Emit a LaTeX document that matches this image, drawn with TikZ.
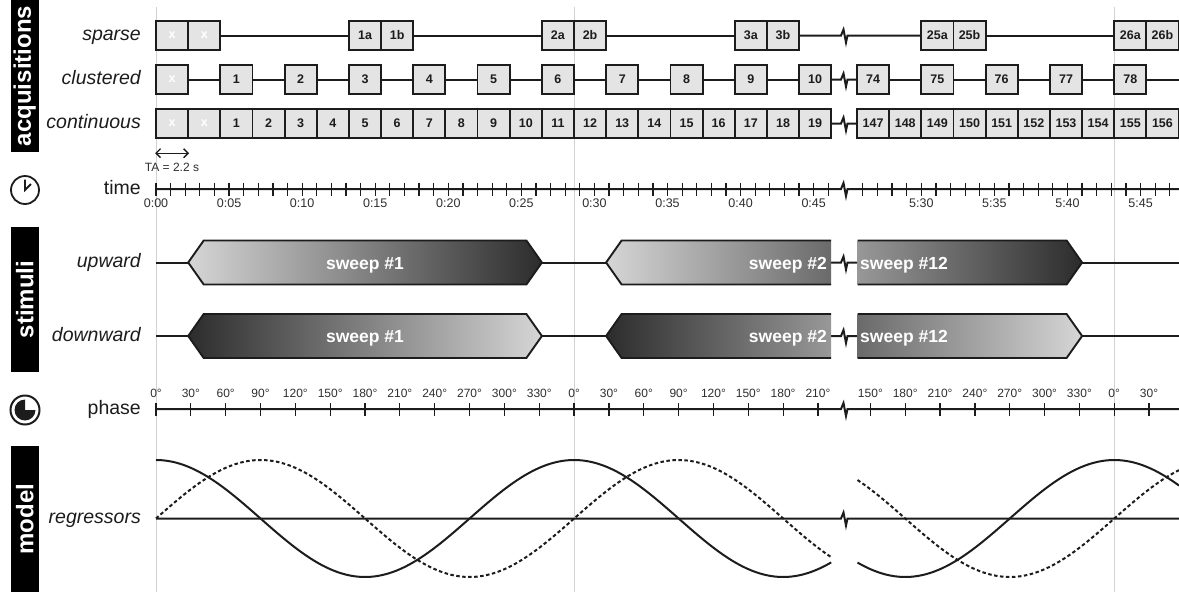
\documentclass[tikz,border=0pt]{standalone}
\usepackage{fontspec}
\setmainfont{Liberation Sans}
\usetikzlibrary{arrows.meta}

\definecolor{ink}{HTML}{1C1C1C}
\definecolor{boxfill}{HTML}{E4E4E4}
\definecolor{guide}{HTML}{D2D2D2}
\definecolor{swlight}{HTML}{D6D6D6}
\definecolor{swdark}{HTML}{2C2C2C}
\definecolor{ticktext}{HTML}{2E2E2E}

\begin{document}
\begin{tikzpicture}[
    x=1pt, y=-1pt,
    wire/.style = {draw=ink, line width=2pt},
    tickmark/.style = {draw=ink, line width=1.2pt},
    guideline/.style = {draw=guide, line width=0.8pt},
    acq/.style = {
      shape=rectangle, draw=ink, fill=boxfill, line width=1.9pt,
      minimum width=32.15pt, minimum height=29.5pt, inner sep=0pt,
      font=\bfseries\fontsize{12.5}{13}\selectfont, text=ink
    },
    dummybox/.style = {acq, text=white},
    sectionbar/.style = {
      shape=rectangle, fill=black, text=white, rotate=90, inner sep=0pt,
      minimum height=28.5pt, font=\bfseries\fontsize{24}{24}\selectfont
    },
    rowlabel/.style = {anchor=east, inner sep=0pt, text height=14pt, text depth=4pt,
      font=\itshape\fontsize{19.5}{22}\selectfont, text=ink},
    axislabel/.style = {rowlabel, font=\fontsize{19.5}{22}\selectfont},
    timelabel/.style = {anchor=north, inner sep=0pt, text=ticktext,
      font=\fontsize{12.5}{13}\selectfont},
    phaselabel/.style = {anchor=south, inner sep=0pt, text=ticktext,
      font=\fontsize{12}{13}\selectfont},
    sweeptext/.style = {text=white, inner sep=0pt, text height=13pt, text depth=0pt,
      font=\bfseries\fontsize{17.5}{18}\selectfont},
    upsweep/.style = {left color=swlight, right color=swdark, draw=ink, line width=1.9pt},
    downsweep/.style = {left color=swdark, right color=swlight, draw=ink, line width=1.9pt},
    sweep/.style n args = {3}{insert path={(#1,#3) -- ({#1+15.5},{#3-22})
      -- ({#2-15.5},{#3-22}) -- (#2,#3) -- ({#2-15.5},{#3+22}) -- ({#1+15.5},{#3+22}) -- cycle}},
    axisbreak/.style = {insert path={-- (841,#1) -- ++(2.5,-6) -- ++(2.5,13) -- ++(1.5,-7)}}
  ]
    \useasboundingbox (0,0) rectangle (1179,592);

    % sweep onsets (0 deg)
    \foreach \gx in {156,574.1,1114.2}
      \draw[guideline] (\gx,7) -- (\gx,592);

    % section bars and icons
    \node[sectionbar, minimum width=152pt] (acqbar) at (24.75,76) {acquisitions};
    \node[sectionbar, minimum width=145pt] (stimbar) at (24.75,299.5) {stimuli};
    \node[sectionbar, minimum width=146pt] (modelbar) at (24.75,519) {model};
    \draw[wire, line width=1.8pt] (25,190) circle[radius=14];
    \draw[wire, line width=1.8pt] (25,179.5) -- (25,190) -- (31,184);
    \draw[wire, line width=2pt] (25,410) circle[radius=14.5];
    \fill[ink] (25,410) -- ++(10.5,0) arc[start angle=0, end angle=270, radius=10.5] -- cycle;

    % row labels
    \node[rowlabel] (lsparse) at (141,35.5) {sparse};
    \node[rowlabel] (lclust) at (141,79.5) {clustered};
    \node[rowlabel] (lcont) at (141,123.5) {continuous};
    \node[axislabel] (ltime) at (141,189) {time};
    \node[rowlabel] (lup) at (141,262.5) {upward};
    \node[rowlabel] (ldown) at (141,336) {downward};
    \node[axislabel] (lphase) at (141,409) {phase};
    \node[rowlabel] (lreg) at (141,518.5) {regressors};

    % sparse acquisitions
    \foreach \k in {0,1}
      \node[dummybox] (s\k) at ({156+32.154*(\k+0.5)},35.5) {x};
    \foreach \k/\t in {6/1a,7/1b,12/2a,13/2b,18/3a,19/3b}
      \node[acq] (s\k) at ({156+32.154*(\k+0.5)},35.5) {\t};
    \foreach \k/\t in {150/25a,151/25b,156/26a,157/26b}
      \node[acq] (s\k) at ({-3901.8+32.154*(\k+0.5)},35.5) {\t};
    \draw[wire] (s1) -- (s6) (s7) -- (s12) (s13) -- (s18) (s151) -- (s156);
    \draw[wire] (s19) [axisbreak=35.5] -- (s150);

    % clustered acquisitions
    \node[dummybox] (k0) at ({156+32.154*0.5},79.5) {x};
    \foreach \n in {1,...,10} {
      \pgfmathtruncatemacro\k{2*\n}
      \node[acq] (k\k) at ({156+32.154*(\k+0.5)},79.5) {\n};
    }
    \foreach \n in {74,...,78} {
      \pgfmathtruncatemacro\k{2*\n}
      \node[acq] (k\k) at ({-3901.8+32.154*(\k+0.5)},79.5) {\n};
    }
    \coordinate (kend) at (1179,79.5);
    \foreach \n in {1,...,10} {
      \pgfmathtruncatemacro\p{2*\n-2}
      \pgfmathtruncatemacro\q{2*\n}
      \draw[wire] (k\p) -- (k\q);
    }
    \draw[wire] (k20) [axisbreak=79.5] -- (k148);
    \draw[wire] (k148) -- (k150) (k150) -- (k152) (k152) -- (k154) (k154) -- (k156) (k156) -- (kend);

    % continuous acquisitions
    \foreach \k in {0,1}
      \node[dummybox] (c\k) at ({156+32.154*(\k+0.5)},123.5) {x};
    \foreach \k in {2,...,20} {
      \pgfmathtruncatemacro\n{\k-1}
      \node[acq] (c\k) at ({156+32.154*(\k+0.5)},123.5) {\n};
    }
    \foreach \k in {148,...,157} {
      \pgfmathtruncatemacro\n{\k-1}
      \node[acq] (c\k) at ({-3901.8+32.154*(\k+0.5)},123.5) {\n};
    }
    \draw[wire] (c20) [axisbreak=123.5] -- (c148);

    % repetition time
    \draw[wire, line width=1.4pt, {Straight Barb[length=4.5pt,width=9pt]}-{Straight Barb[length=4.5pt,width=9pt]}]
      ([yshift=-14pt]c0.south west) -- ([yshift=-14pt]c0.south east);
    \node[font=\fontsize{12}{13}\selectfont, text=ticktext] (ta) at (172,167) {TA = 2.2 s};

    % time axis
    \draw[wire] (156,189) [axisbreak=189] -- (1179,189);
    \foreach \t in {0,...,46}
      \draw[tickmark] ({156+14.615*\t},182.5) -- ++(0,13);
    \foreach \t in {326,...,347}
      \draw[tickmark] ({857+14.615*(\t-325.6)},182.5) -- ++(0,13);
    \foreach \t/\l in {0/0:00,5/0:05,10/0:10,15/0:15,20/0:20,25/0:25,30/0:30,35/0:35,40/0:40,45/0:45}
      \node[timelabel] at ({156+14.615*\t},199) {\l};
    \foreach \t/\l in {330/5:30,335/5:35,340/5:40,345/5:45}
      \node[timelabel] at ({857+14.615*(\t-325.6)},199) {\l};

    % stimuli
    \foreach \r/\y in {u/262.5,d/336} {
      \coordinate (\r0) at (156,\y);
      \coordinate (\r1a) at (188.2,\y);
      \coordinate (\r1b) at (541.9,\y);
      \coordinate (\r2a) at (606.1,\y);
      \coordinate (\r2b) at (831.2,\y);
      \coordinate (\r12a) at (857.5,\y);
      \coordinate (\r12b) at (1082.1,\y);
      \coordinate (\r9) at (1179,\y);
      \draw[wire] (\r0) -- (\r1a) (\r1b) -- (\r2a) (\r12b) -- (\r9);
      \draw[wire] (\r2b) [axisbreak=\y] -- (\r12a);
    }
    \shade[upsweep] [sweep={188.2}{541.9}{262.5}];
    \shade[downsweep] [sweep={188.2}{541.9}{336}];
    \begin{scope}
      \clip (600,230) rectangle (831.2,370);
      \shade[upsweep] [sweep={606.1}{959.8}{262.5}];
      \shade[downsweep] [sweep={606.1}{959.8}{336}];
    \end{scope}
    \begin{scope}
      \clip (857.5,230) rectangle (1179,370);
      \shade[upsweep] [sweep={728.4}{1082.1}{262.5}];
      \shade[downsweep] [sweep={728.4}{1082.1}{336}];
    \end{scope}
    \node[sweeptext] (up1) at (365,262.5) {sweep \#1};
    \node[sweeptext, anchor=east] (up2) at (827,262.5) {sweep \#2};
    \node[sweeptext, anchor=west] (up12) at (860,262.5) {sweep \#12};
    \node[sweeptext] (down1) at (365,336) {sweep \#1};
    \node[sweeptext, anchor=east] (down2) at (827,336) {sweep \#2};
    \node[sweeptext, anchor=west] (down12) at (860,336) {sweep \#12};

    % phase axis
    \draw[wire] (156,409) [axisbreak=409] -- (1179,409);
    \foreach \i in {0,...,19} {
      \pgfmathtruncatemacro\d{mod(30*\i,360)}
      \draw[tickmark] ({156+34.84*\i},403) -- ++(0,13);
      \node[phaselabel] at ({156+34.84*\i},398) {\d°};
    }
    \foreach \i in {5,...,13} {
      \pgfmathtruncatemacro\d{mod(30*\i,360)}
      \draw[tickmark] ({696.23+34.833*\i},403) -- ++(0,13);
      \node[phaselabel] at ({696.23+34.833*\i},398) {\d°};
    }

    % regressors
    \coordinate (r0) at (156,518.5);
    \coordinate (r1) at (1179,518.5);
    \draw[wire] (r0) [axisbreak=518.5] -- (r1);
    \draw[wire] plot[domain=156:831.2, samples=120, smooth] (\x,{518.5-58.5*cos(0.8610*(\x-156))});
    \draw[wire] plot[domain=857.5:1179, samples=80, smooth] (\x,{518.5-58.5*cos(0.8611*(\x-696.23))});
    \draw[wire, dash pattern=on 3.5pt off 2.5pt] plot[domain=156:831.2, samples=120, smooth] (\x,{518.5-58.5*sin(0.8610*(\x-156))});
    \draw[wire, dash pattern=on 3.5pt off 2.5pt] plot[domain=857.5:1179, samples=80, smooth] (\x,{518.5-58.5*sin(0.8611*(\x-696.23))});
\end{tikzpicture}
\end{document}
